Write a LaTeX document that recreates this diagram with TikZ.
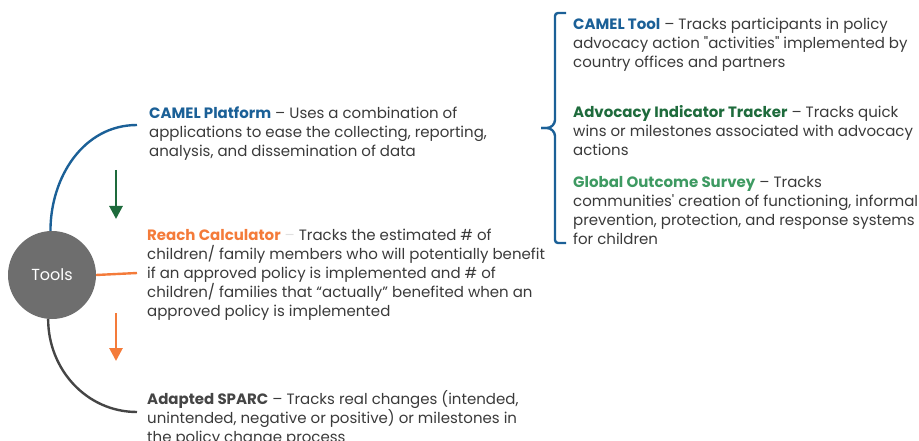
\documentclass[tikz,border=0pt]{standalone}
\usepackage{fontspec}
\setmainfont{Poppins}
\usetikzlibrary{arrows.meta}
\definecolor{cblue}{HTML}{1B6097}
\definecolor{dgreen}{HTML}{1E6B3C}
\definecolor{lgreen}{HTML}{3E9A62}
\definecolor{corange}{HTML}{F47B3A}
\definecolor{ctext}{HTML}{3A3A3A}
\definecolor{cgray}{HTML}{6E6E6E}
\definecolor{cdark}{HTML}{454545}
\newcommand{\straight}[1]{{\addfontfeatures{Ligatures=TeXOff}#1}}
\tikzset{
  desc/.style={anchor=north west, inner sep=0pt, align=left, text=ctext,
    font=\fontsize{15}{19}\selectfont},
  conn/.style={line width=2.4pt},
  darrow/.style={line width=2.8pt, -{Triangle[length=13pt,width=13pt]}},
}
\begin{document}
\begin{tikzpicture}[x=1pt,y=-1pt]
\useasboundingbox (0,0) rectangle (919,441);
% circle
\node[circle, fill=cgray, minimum size=88pt, inner sep=0pt, text=white,
  font=\fontsize{16}{18}\selectfont] (tools) at (52,275) {Tools};
% end coordinates
\coordinate (pl) at (137,125);
\coordinate (rl) at (137,273);
\coordinate (sl) at (137,412);
\draw[conn, cblue] (tools.92) to[out=90,in=180] (pl);
\draw[conn, corange] (tools.east) -- (rl);
\draw[conn, cdark] (tools.265) to[out=-90,in=180] (sl);
% arrows
\coordinate (g1) at (116,170); \coordinate (g2) at (116,219);
\coordinate (o1) at (116,313); \coordinate (o2) at (116,361);
\draw[darrow, dgreen] (g1) -- (g2);
\draw[darrow, corange] (o1) -- (o2);
% texts
\node[desc] (plat) at (149,107) {\textbf{\color{cblue}CAMEL Platform} – Uses a combination of\\applications to ease the collecting, reporting,\\analysis, and dissemination of data};
\node[desc] (reach) at (147,229) {\textbf{\color{corange}Reach Calculator} {\color{black!12}–} Tracks the estimated \# of\\children/ family members who will potentially benefit\\if an approved policy is implemented and \# of\\children/ families that “actually” benefited when an\\approved policy is implemented};
\node[desc] (sparc) at (147,390) {\textbf{\color{cdark}Adapted SPARC} – Tracks real changes (intended,\\unintended, negative or positive) or milestones in\\the policy change process};
\node[desc] (tool) at (573,18) {\textbf{\color{cblue}CAMEL Tool} – Tracks participants in policy\\advocacy action \straight{"activities"} implemented by\\country offices and partners};
\node[desc] (ait) at (573,105) {\textbf{\color{dgreen}Advocacy Indicator Tracker} – Tracks quick\\wins or milestones associated with advocacy\\actions};
\node[desc] (gos) at (573,176) {\textbf{\color{lgreen}Global Outcome Survey} – Tracks\\communities\straight{'} creation of functioning, informal\\prevention, protection, and response systems\\for children};
% bracket
\coordinate (bt) at (566,13);
\coordinate (bb) at (566,243);
\coordinate (bm) at (541,128);
\draw[conn, cblue, rounded corners=3pt] (bt) -- (555,13) -- (555,123) -- (550,128) -- (bm);
\draw[conn, cblue, rounded corners=3pt] (bb) -- (555,243) -- (555,133) -- (550,128) -- (bm);
\end{tikzpicture}
\end{document}
